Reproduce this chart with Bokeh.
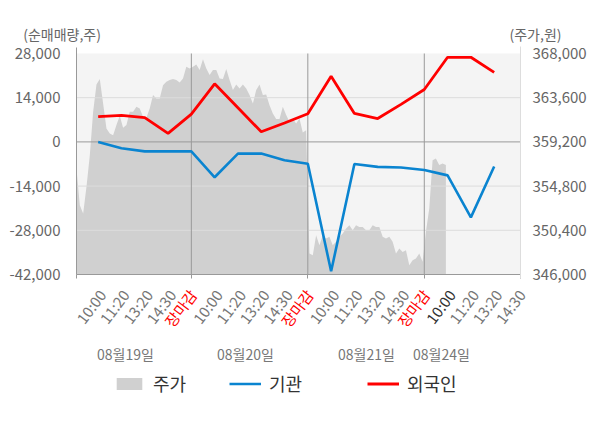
import numpy as np
from math import pi
from bokeh.plotting import figure
from bokeh.models import (Range1d, LinearAxis, FixedTicker, NumeralTickFormatter,
                          CustomJSTickFormatter, Label, Legend, LegendItem)
from bokeh.embed import file_html
from bokeh.resources import INLINE

FONT = "Noto Sans CJK KR"

# ---------------- data ----------------
tick_labels = ["10:00", "11:20", "13:20", "14:30", "장마감",
               "10:00", "11:20", "13:20", "14:30", "장마감",
               "10:00", "11:20", "13:20", "14:30", "장마감",
               "10:00", "11:20", "13:20", "14:30"]
day_labels = ["08월19일", "08월20일", "08월21일", "08월24일"]

# net buying (shares) at each labelled time slot
foreign = [8000, 8400, 7700, 2700, 8800, 18400, 10800, 3200, 6000, 8900,
           20800, 9000, 7400, 11900, 16600, 26800, 26800, 22000]
institution = [0, -2000, -3000, -3000, -3000, -11200, -3700, -3700, -5800, -6900,
               -41000, -7000, -7900, -8100, -8900, -10600, -23900, -7800]

# intraday share price (won), sampled 7 times per time slot
price = [356490, 352900, 352070, 354730, 357880, 362200, 364920, 365450, 363030, 360540,
         360040, 359870, 360870, 361800, 360600, 360870, 362200, 362200, 362700, 362530,
         361700, 361600, 362530, 363860, 363530, 363530, 364850, 365190, 365350, 365450,
         365350, 365120, 365520, 366680, 366510, 366680, 366910, 366350,
         367440, 366510, 365850, 366350, 366350, 365520, 365450, 366450, 365350, 364360,
         364920, 364520, 364920, 364520, 363860, 363030, 364360, 364920, 363860, 363920,
         362860, 362030, 361470, 361470, 362700, 361870, 361200, 361470, 361040, 361530,
         360140, 360370,
         348090, 347920, 349910, 348920, 349910, 349580, 349750, 348920, 349250, 349750,
         350080, 350580, 350910, 350410, 350910, 350740, 350740, 350410, 350410, 350910,
         350740, 350740, 349750, 349580, 349750, 349250, 348090, 348590, 348250, 348420,
         346930, 347420, 347590, 348090, 347260, 350250, 352570, 357380, 357550, 356890,
         357050, 356900]
samples_per_slot = 7

left_ticks = [-42000, -28000, -14000, 0, 14000, 28000]
right_ticks = [346000, 350400, 354800, 359200, 363600, 368000]

# ---------------- layout (pixels) ----------------
W, H = 600, 428
FL, FR, FT, FB = 76, 520, 53, 274          # chart area edges on the canvas
X0, X1 = -0.93, 18.13
Y0, Y1 = left_ticks[0], left_ticks[-1]
P0, P1 = right_ticks[0], right_ticks[-1]
px_x = (FR - FL) / (X1 - X0)
px_y = (FB - FT) / (Y1 - Y0)
px_p = (FB - FT) / (P1 - P0)

def sx(px):  # canvas x pixel -> data x
    return X0 + (px - FL) / px_x

def sy(py):  # canvas y pixel -> data y
    return Y0 + (FB - py) / px_y

def sp(py):  # canvas y pixel -> price
    return P0 + (FB - py) / px_p

p = figure(width=W, height=H, output_backend="svg", toolbar_location=None,
           x_range=Range1d(sx(0), sx(W)), y_range=Range1d(sy(H), sy(0)),
           min_border=0, min_border_left=0, min_border_right=0,
           min_border_top=0, min_border_bottom=0)
p.extra_y_ranges = {"price": Range1d(sp(H), sp(0))}
p.background_fill_color = "white"
p.border_fill_color = "white"
p.outline_line_color = None
p.xgrid.visible = False
p.ygrid.visible = False

GRAY_TXT = "#666666"

# plot-area background
bg = p.quad(left=X0, right=X1, bottom=Y0, top=Y1, fill_color="#f4f4f4", line_color=None)
bg.level = "image"

# price area
price_x = np.arange(len(price)) / samples_per_slot + X0
area = p.varea(x=price_x, y1=P0, y2=price, y_range_name="price", fill_color="#d0d0d0")
area.level = "image"

# grid lines
light = [t for t in left_ticks if t not in (0, Y0, Y1)]
g1 = p.segment(x0=X0, x1=X1, y0=light, y1=light, line_color="#dcdcdc", line_width=1)
g1.level = "underlay"
g0 = p.segment(x0=X0, x1=X1, y0=[0], y1=[0], line_color="#999999", line_width=1)
g0.level = "underlay"
day_end_idx = [i for i, t in enumerate(tick_labels) if t == "장마감"]
gv = p.segment(x0=day_end_idx, x1=day_end_idx, y0=Y0, y1=Y1, line_color="#999999", line_width=1)
gv.level = "underlay"

# lines
slots = np.arange(len(foreign))
blue = p.line(slots, institution, line_color="#0a84d0", line_width=2.6)
red = p.line(slots, foreign, line_color="#ff0000", line_width=2.8)

# left axis
la = p.yaxis[0]
la.fixed_location = X0
la.bounds = (Y0, sy(47))
la.ticker = FixedTicker(ticks=left_ticks)
la.formatter = NumeralTickFormatter(format="0,0")
la.major_tick_line_color = None
la.minor_tick_line_color = None
la.axis_line_color = "#999999"
la.major_label_standoff = 10
la.major_label_text_font = FONT
la.major_label_text_font_size = "15px"
la.major_label_text_color = GRAY_TXT

# right axis
ra = LinearAxis(y_range_name="price", ticker=FixedTicker(ticks=right_ticks),
                formatter=NumeralTickFormatter(format="0,0"),
                fixed_location=X1, bounds=(sp(278), sp(46)))
ra.major_tick_line_color = None
ra.minor_tick_line_color = None
ra.axis_line_color = "#dddddd"
ra.major_label_standoff = 6
ra.major_label_text_font = FONT
ra.major_label_text_font_size = "15px"
ra.major_label_text_color = GRAY_TXT
p.add_layout(ra, "right")

# bottom axis: ticks at day boundaries, labels drawn separately
xa = p.xaxis[0]
xa.fixed_location = Y0
xa.bounds = (X0, X1)
xa.ticker = FixedTicker(ticks=[X0] + day_end_idx + [X1])
xa.formatter = CustomJSTickFormatter(code="return ''")
xa.major_tick_in = 0
xa.major_tick_out = 4
xa.major_tick_line_color = "#999999"
xa.minor_tick_line_color = None
xa.axis_line_color = "#999999"

# x tick labels (rotated)
for i, t in enumerate(tick_labels):
    if t == "장마감":
        col, dx = "#ff0000", 1.5
    elif i == 15:
        col, dx = "#333333", 4
    else:
        col, dx = "#777777", 4
    p.add_layout(Label(x=i + dx / px_x, y=sy(291), text=t, angle=53 * pi / 180,
                       text_align="right", text_baseline="middle",
                       text_font=FONT, text_font_size="15px", text_color=col))

# date labels under each day
day_pos_px = [125, 245, 366, 441]
for t, cx in zip(day_labels, day_pos_px):
    p.add_layout(Label(x=sx(cx), y=sy(353), text=t,
                       text_align="center", text_baseline="middle",
                       text_font=FONT, text_font_size="14px", text_color="#777777"))

# axis titles
p.add_layout(Label(x=sx(22.7), y=sy(33), text="(순매매량,주)",
                   text_align="left", text_baseline="middle",
                   text_font=FONT, text_font_size="14px", text_color=GRAY_TXT))
p.add_layout(Label(x=sx(509), y=sy(33), text="(주가,원)",
                   text_align="left", text_baseline="middle",
                   text_font=FONT, text_font_size="14px", text_color=GRAY_TXT))

# legends
def add_leg(label, rend, left_px):
    lg = Legend(items=[LegendItem(label=label, renderers=[rend])],
                location=(left_px, H - 396), orientation="horizontal",
                padding=0, margin=0, border_line_color=None,
                background_fill_alpha=0, glyph_width=32, glyph_height=15,
                label_standoff=8, label_text_font=FONT, label_height=22,
                label_text_font_size="18px", label_text_color="#333333")
    p.add_layout(lg, "center")

add_leg("주가", area, 113)
add_leg("기관", blue, 229)
add_leg("외국인", red, 367)

open("out.html", "w").write(file_html(p, INLINE))
